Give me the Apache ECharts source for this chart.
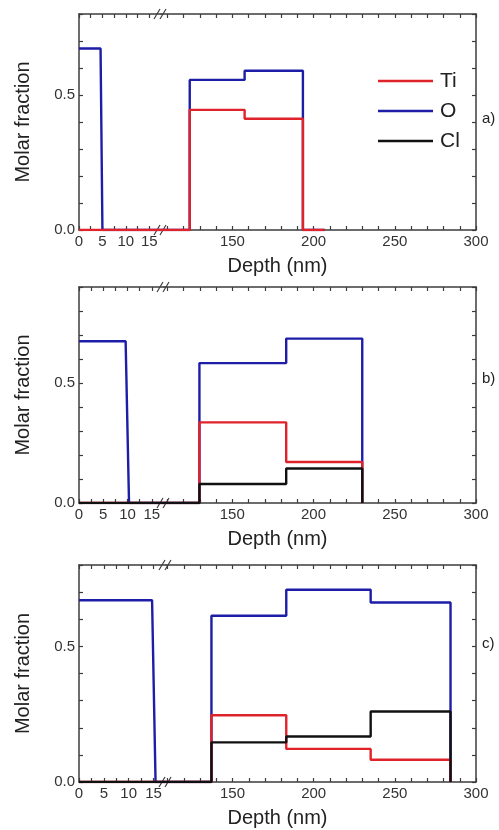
<!DOCTYPE html>
<html>
<head>
<meta charset="utf-8">
<script src="https://cdn.jsdelivr.net/npm/echarts@6/dist/echarts.min.js"></script>
<style>
  html, body { margin: 0; padding: 0; background: #fff; }
  #chart { width: 499px; height: 830px; }
</style>
</head>
<body>
<div id="chart"></div>
<script>
// ---- Elements, panel tags and tick labels ----
const elements = ['Ti', 'O', 'Cl'];
const panelTags = ['a)', 'b)', 'c)'];
const yTickLabels = [0, 0.5];
const nearDepthLabels = [0, 5, 10, 15];
const farDepthLabels = [150, 200, 250, 300];

// ---- O-rich surface layer: molar fraction and depths (top, foot) of its drop ----
const surfaceO = [0.672, 0.674, 0.670];
const surfaceEdge = [[4.6, 5.0], [9.6, 10.3], [14.7, 15.4]];

// ---- Deposited film: layer boundaries (nm) and molar fraction per layer ----
const filmEdgesA = [123.7, 157.5, 193.4];
const filmO_A = [0.556, 0.590];
const filmTi_A = [0.445, 0.412];

const filmEdgesB = [129.8, 183.2, 230.0];
const filmO_B = [0.583, 0.685];
const filmTi_B = [0.336, 0.171];
const filmCl_B = [0.079, 0.144];

const filmEdgesC = [137.0, 183.1, 235.1, 284.3];
const filmO_C = [0.613, 0.709, 0.662];
const filmTi_C = [0.246, 0.122, 0.082];
const filmCl_C = [0.146, 0.168, 0.260];

// last depth of each computed profile
const profileEnd = [206.8, 230.0, 284.3];

// ---- Layout ----
const plotLeft = 79, plotRight = 476;
const nearMax = 17.5;
const layout = [
  { top: 14,  bottom: 230, yMax: 0.8, split: 161, farMin: 106, tagTop: 111 },
  { top: 287, bottom: 503, yMax: 0.9, split: 164, farMin: 108, tagTop: 371 },
  { top: 565, bottom: 782, yMax: 0.8, split: 166, farMin: 109, tagTop: 636 }
];
const colors = { Ti: '#e0232a', O: '#1d1da8', Cl: '#111111' };
const axisColor = '#3c3c3c';
const fontFamily = '"Liberation Sans", Arial, sans-serif';

const films = [
  { edges: filmEdgesA, O: filmO_A, Ti: filmTi_A, Cl: null },
  { edges: filmEdgesB, O: filmO_B, Ti: filmTi_B, Cl: filmCl_B },
  { edges: filmEdgesC, O: filmO_C, Ti: filmTi_C, Cl: filmCl_C }
];

// step profile across the film, flat at zero outside it
function stepPoints(edges, levels, from, to) {
  const pts = [[from, 0], [edges[0], 0]];
  levels.forEach((v, i) => { pts.push([edges[i], v], [edges[i + 1], v]); });
  const last = edges[edges.length - 1];
  pts.push([last, 0]);
  if (to > last) pts.push([to, 0]);
  return pts;
}

const axisLine = { show: true, lineStyle: { color: axisColor, width: 1.5 } };
function ticks(extra) {
  return Object.assign({ show: true, inside: true, length: 4,
    lineStyle: { color: axisColor, width: 1.2 } }, extra || {});
}
const labelStyle = { fontSize: 15, color: '#333', fontFamily: fontFamily };

const nearTicks = [];
for (let v = 0; v <= 15; v += 2.5) nearTicks.push(v);

const drawOrder = ['O', 'Ti', 'Cl'];
const grid = [], xAxis = [], yAxis = [], series = [], graphic = [], title = [];

layout.forEach((L, p) => {
  const h = L.bottom - L.top;
  const gi = grid.length, xi = xAxis.length, yi = yAxis.length;
  grid.push(
    { left: plotLeft, top: L.top, width: L.split - plotLeft, height: h, outerBoundsMode: 'none' },
    { left: L.split, top: L.top, width: plotRight - L.split, height: h, outerBoundsMode: 'none' },
    { left: plotLeft, top: L.top, width: plotRight - plotLeft, height: h, outerBoundsMode: 'none' }
  );

  const farTicks = [];
  for (let v = 110; v <= 300; v += 10) if (v > L.farMin) farTicks.push(v);

  xAxis.push(
    { gridIndex: gi, type: 'value', min: 0, max: nearMax, position: 'bottom',
      axisLine: axisLine, axisTick: ticks({ customValues: nearTicks }),
      axisLabel: Object.assign({ customValues: nearDepthLabels, margin: 4 }, labelStyle),
      splitLine: { show: false } },
    { gridIndex: gi, type: 'value', min: 0, max: nearMax, position: 'top',
      axisLine: axisLine, axisTick: ticks({ customValues: nearTicks }),
      axisLabel: { show: false }, splitLine: { show: false } },
    { gridIndex: gi + 1, type: 'value', min: L.farMin, max: 300, position: 'bottom',
      axisLine: axisLine, axisTick: ticks({ customValues: farTicks }),
      axisLabel: Object.assign({ customValues: farDepthLabels, margin: 4 }, labelStyle),
      splitLine: { show: false } },
    { gridIndex: gi + 1, type: 'value', min: L.farMin, max: 300, position: 'top',
      axisLine: axisLine, axisTick: ticks({ customValues: farTicks }),
      axisLabel: { show: false }, splitLine: { show: false } },
    { gridIndex: gi + 2, type: 'value', min: 0, max: 1, position: 'bottom',
      axisLine: { show: false }, axisTick: { show: false }, axisLabel: { show: false },
      splitLine: { show: false },
      name: 'Depth (nm)', nameLocation: 'middle', nameGap: 26,
      nameTextStyle: { fontSize: 20, color: '#222', fontFamily: fontFamily } }
  );

  yAxis.push(
    { gridIndex: gi, type: 'value', min: 0, max: L.yMax, interval: 0.1, position: 'left',
      axisLine: axisLine, axisTick: ticks(),
      axisLabel: Object.assign({ customValues: yTickLabels, margin: 4,
        formatter: v => v.toFixed(1) }, labelStyle),
      splitLine: { show: false },
      name: 'Molar fraction', nameLocation: 'middle', nameGap: 46,
      nameTextStyle: { fontSize: 20, color: '#222', fontFamily: fontFamily } },
    { gridIndex: gi + 1, type: 'value', min: 0, max: L.yMax, interval: 0.1, position: 'right',
      axisLine: axisLine, axisTick: ticks(), axisLabel: { show: false },
      splitLine: { show: false } },
    { gridIndex: gi + 2, type: 'value', min: 0, max: 1, show: false }
  );

  const film = films[p];
  const base = { type: 'line', symbol: 'none', showSymbol: false, animation: false,
    silent: true, clip: true };
  drawOrder.forEach((el, k) => {
    if (!film[el]) return;
    const style = { color: colors[el], width: 2.4 };
    // near-surface segment
    const near = el === 'O'
      ? [[0, surfaceO[p]], [surfaceEdge[p][0], surfaceO[p]], [surfaceEdge[p][1], 0], [nearMax, 0]]
      : [[0, 0], [nearMax, 0]];
    series.push(Object.assign({}, base, {
      name: el, xAxisIndex: xi, yAxisIndex: yi, z: 2 + k,
      itemStyle: { color: colors[el] }, lineStyle: style, data: near }));
    // film segment
    series.push(Object.assign({}, base, {
      name: el, xAxisIndex: xi + 2, yAxisIndex: yi + 1, z: 2 + k,
      itemStyle: { color: colors[el] }, lineStyle: style,
      data: stepPoints(film.edges, film[el], L.farMin, profileEnd[p]) }));
  });

  // axis-break marks on the bottom and top axes
  [L.bottom, L.top].forEach(y => {
    const x = L.split;
    graphic.push({
      type: 'group', z: 100, children: [
        { type: 'polygon', shape: { points: [[x - 7, y + 5], [x - 1, y + 5], [x + 5, y - 5], [x - 1, y - 5]] },
          style: { fill: '#fff' } },
        { type: 'line', shape: { x1: x - 7, y1: y + 5, x2: x - 1, y2: y - 5 },
          style: { stroke: axisColor, lineWidth: 1.2 } },
        { type: 'line', shape: { x1: x - 1, y1: y + 5, x2: x + 5, y2: y - 5 },
          style: { stroke: axisColor, lineWidth: 1.2 } }
      ]
    });
  });

  title.push({ text: panelTags[p], left: 482, top: L.tagTop, padding: 0,
    textStyle: { fontSize: 15, fontWeight: 'normal', color: '#222', fontFamily: fontFamily } });
});

const chart = echarts.init(document.getElementById('chart'), null, { renderer: 'canvas' });
chart.setOption({
  backgroundColor: '#fff',
  animation: false,
  textStyle: { fontFamily: fontFamily },
  title: title,
  legend: {
    data: elements, orient: 'vertical', left: 373, top: 65,
    icon: 'rect', itemWidth: 55, itemHeight: 2.5, itemGap: 8,
    textStyle: { fontSize: 21, color: '#222', lineHeight: 22, padding: [0, 0, 0, 2], fontFamily: fontFamily }
  },
  grid: grid, xAxis: xAxis, yAxis: yAxis, series: series, graphic: graphic
});
</script>
</body>
</html>
